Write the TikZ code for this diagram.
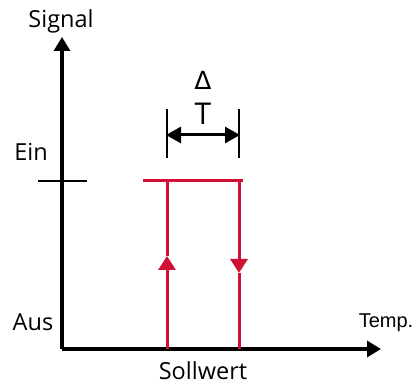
\documentclass[tikz,border=0pt]{standalone}
\usepackage{fontspec}
\setmainfont{Open Sans}
\newfontfamily\arialfont{Liberation Sans}
\newfontfamily\dejavufont{DejaVu Sans}
\usetikzlibrary{arrows.meta}
\definecolor{hysred}{RGB}{208,16,52}
\tikzset{
  axis/.style={line width=3.2pt, -{Triangle[length=14pt,width=16pt]}},
  thin/.style={line width=1.4pt},
  redline/.style={hysred, line width=3pt},
  redarrow/.style={hysred, line width=3pt, -{Triangle[length=14pt,width=17pt]}},
  dimarrow/.style={line width=3pt, {Triangle[length=15pt,width=16pt]}-{Triangle[length=15pt,width=16pt]}},
  lbl/.style={font=\fontsize{23.5}{27}\selectfont, anchor=base, inner sep=0pt},
}
\begin{document}
\begin{tikzpicture}[x=1pt,y=-1pt]
\path[use as bounding box] (0,0) rectangle (416,387);
% coordinates
\coordinate (O) at (62,349);
\coordinate (Ytop) at (62,37);
\coordinate (Xend) at (381,349);
\coordinate (tickL) at (38,181);
\coordinate (tickR) at (87,181);
\coordinate (topL) at (143,181);
\coordinate (topR) at (243,181);
\coordinate (lb) at (167,349);
\coordinate (lt) at (167,181);
\coordinate (la) at (167,256);
\coordinate (rb) at (239,349);
\coordinate (rt) at (239,181);
\coordinate (ra) at (239,273);
\coordinate (d1t) at (167,109);
\coordinate (d1b) at (167,158);
\coordinate (d2t) at (239,109);
\coordinate (d2b) at (239,158);
\coordinate (da) at (166,135);
\coordinate (db) at (240,135);
% axes
\draw[axis] (O) -- (Ytop);
\draw[axis] (O) -- (Xend);
\draw[thin] (tickL) -- (tickR);
% red hysteresis
\draw[redline] (topL) -- (topR);
\draw[redarrow] (lb) -- (la);
\draw[redline] (la) -- (lt);
\draw[redarrow] (rt) -- (ra);
\draw[redline] (ra) -- (rb);
% delta T
\draw[thin] (d1t) -- (d1b);
\draw[thin] (d2t) -- (d2b);
\draw[dimarrow] (da) -- (db);
% labels
\node[lbl] (signal) at (61,28) {Signal};
\node[lbl] (ein) at (31,161) {Ein};
\node[lbl] (aus) at (33,331) {Aus};
\node[lbl] (soll) at (203,380) {Sollwert};
\node[anchor=base, inner sep=0pt] (temp) at (386,328) {\arialfont\fontsize{20}{24}\selectfont Temp.};
\node[anchor=base, inner sep=0pt] (delta) at (203,90) {\dejavufont\fontsize{25}{29}\selectfont\char"0394};
\node[lbl, font=\fontsize{30}{34}\selectfont] (T) at (203,125) {T};
\end{tikzpicture}
\end{document}
